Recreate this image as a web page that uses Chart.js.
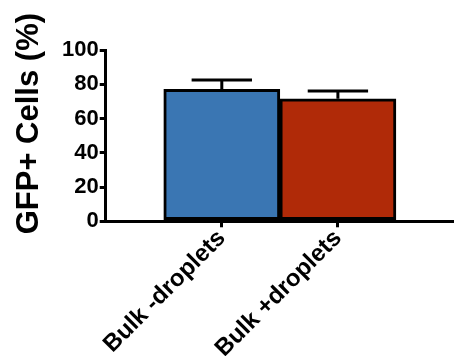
<!DOCTYPE html>
<html>
<head>
<meta charset="utf-8">
<script src="https://cdn.jsdelivr.net/npm/chart.js@4"></script>
<style>
  html, body { margin: 0; padding: 0; background: #fff; }
  #wrap { width: 454px; height: 356px; }
</style>
</head>
<body>
<div id="wrap"><canvas id="gfpChart"></canvas></div>
<script>
const categories = ['Bulk -droplets', 'Bulk +droplets'];
const gfpMeans = [77, 71.5];
const gfpErrors = [5.5, 4.5];
const barColors = ['#3a76b3', '#b02a08'];
const yTicks = [0, 20, 40, 60, 80, 100];
const yTitle = 'GFP+ Cells (%)';

const boldFont = 'Liberation Sans, Arial, sans-serif';

// bars sit at x = 1, 2 on a linear axis so the axis can start one slot left of the first bar
const positions = categories.map((c, i) => i + 1);

// one-sided (upward) error bars, drawn through the chart scales
const errorBars = {
    id: 'errorBars',
    afterDatasetsDraw(chart) {
        const ctx = chart.ctx;
        const yScale = chart.scales.y;
        const meta = chart.getDatasetMeta(0);
        ctx.save();
        ctx.strokeStyle = '#000';
        ctx.lineWidth = 3;
        meta.data.forEach((bar, i) => {
            const top = yScale.getPixelForValue(gfpMeans[i]);
            const tip = yScale.getPixelForValue(gfpMeans[i] + gfpErrors[i]);
            const half = bar.width * 0.26;
            ctx.beginPath();
            ctx.moveTo(bar.x, top);
            ctx.lineTo(bar.x, tip);
            ctx.moveTo(bar.x - half, tip);
            ctx.lineTo(bar.x + half, tip);
            ctx.stroke();
        });
        ctx.restore();
    }
};

// y title sits a bit higher than the plot centre in the original, so draw it by hand
const yTitlePlugin = {
    id: 'yTitle',
    afterDraw(chart) {
        const ctx = chart.ctx;
        const area = chart.chartArea;
        ctx.save();
        ctx.translate(29, (area.top + area.bottom) / 2 - 12);
        ctx.rotate(-Math.PI / 2);
        ctx.fillStyle = '#000';
        ctx.font = 'bold 31px ' + boldFont;
        ctx.textAlign = 'center';
        ctx.textBaseline = 'middle';
        ctx.fillText(yTitle, 0, 0);
        ctx.restore();
    }
};

const ctx = document.getElementById('gfpChart').getContext('2d');
new Chart(ctx, {
    type: 'bar',
    data: {
        datasets: [{
            data: positions.map((x, i) => ({ x: x, y: gfpMeans[i] })),
            backgroundColor: barColors,
            borderColor: '#000',
            borderWidth: 3,
            borderSkipped: false,
            barThickness: 'flex',
            barPercentage: 1,
            categoryPercentage: 1
        }]
    },
    options: {
        responsive: true,
        maintainAspectRatio: false,
        animation: false,
        layout: { padding: { top: 50, right: 0, left: 61, bottom: -4 } },
        plugins: {
            legend: { display: false },
            tooltip: { enabled: false }
        },
        scales: {
            x: {
                type: 'linear',
                min: 0,
                max: 3,
                offset: false,
                afterBuildTicks: axis => { axis.ticks = positions.map(v => ({ value: v })); },
                grid: { offset: false, drawOnChartArea: false, color: '#000', tickLength: 6, lineWidth: 3 },
                border: { color: '#000', width: 3 },
                ticks: {
                    color: '#000',
                    minRotation: 45,
                    maxRotation: 45,
                    padding: -3,
                    font: { family: boldFont, size: 24, weight: 'bold' },
                    callback: v => categories[v - 1]
                }
            },
            y: {
                min: 0,
                max: 100,
                afterBuildTicks: axis => { axis.ticks = yTicks.map(v => ({ value: v })); },
                grid: { drawOnChartArea: false, color: '#000', tickLength: 6, lineWidth: 3 },
                border: { color: '#000', width: 3 },
                ticks: {
                    color: '#000',
                    padding: 1,
                    font: { family: boldFont, size: 22, weight: 'bold' }
                }
            }
        }
    },
    plugins: [errorBars, yTitlePlugin]
});
</script>
</body>
</html>
